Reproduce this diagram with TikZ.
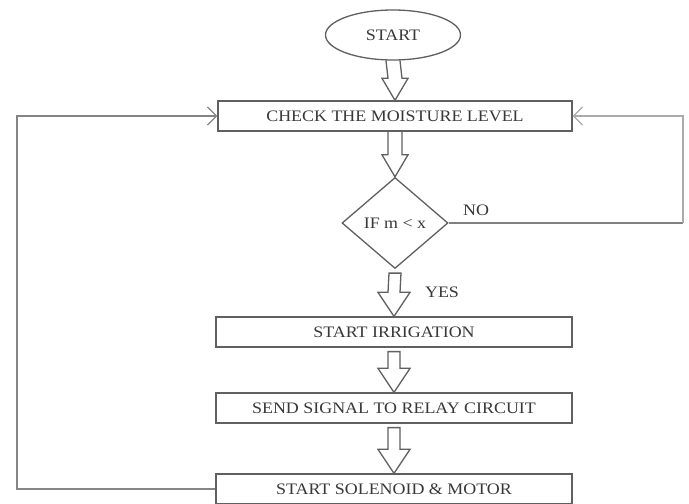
\documentclass[tikz,border=0pt]{standalone}
\usepackage{fontspec}
\setmainfont{Liberation Serif}[FakeStretch=1.12]
\usetikzlibrary{shapes.geometric,arrows.meta,calc}
\definecolor{edge}{HTML}{606060}
\definecolor{txt}{HTML}{383838}
\definecolor{loopl}{HTML}{858585}
\definecolor{loopr}{HTML}{ABABAB}
\begin{document}
\begin{tikzpicture}[x=1pt,y=1pt,
  font=\fontsize{16}{18}\selectfont, text=txt,
  procbox/.style={draw=edge, line width=1.3pt, rectangle, minimum height=30pt, inner sep=0pt},
  termnode/.style={draw=edge, line width=1.3pt, ellipse, minimum width=135pt, minimum height=50pt, inner sep=0pt},
  decnode/.style={draw=edge, line width=1.3pt, diamond, minimum width=106pt, minimum height=91pt, inner sep=0pt},
  fat/.style={draw=edge, line width=1.3pt, line join=miter},
  loopline/.style={line width=1.6pt, -{Straight Barb[length=9pt,width=18pt,line width=1.3pt]}}]
\useasboundingbox (0,0) rectangle (689,504);
\fill[white] (0,0) rectangle (689,504);

\node[termnode] (start) at (393,469) {START};
\node[procbox, minimum width=354pt] (check) at (395,388) {CHECK THE MOISTURE LEVEL};
\node[decnode] (dec) at (395,281) {IF m < x};
\node[procbox, minimum width=356pt] (irr) at (394,172) {START IRRIGATION};
\node[procbox, minimum width=356pt] (send) at (394,96) {SEND SIGNAL TO RELAY CIRCUIT};
\node[procbox, minimum width=356pt] (sol) at (394,15) {START SOLENOID \& MOTOR};

\node (no) at (476,294) {NO};
\node (yes) at (442,212) {YES};

% hollow block arrows
\newcommand\openfat[2]{%
  \draw[fat] ($(#1)+(-7,0)$) -- ($(#2)+(-7,22)$) -- ($(#2)+(-13,22)$) -- (#2) -- ($(#2)+(13,22)$) -- ($(#2)+(7,22)$) -- ($(#1)+(7,0)$);}
\newcommand\closedfat[2]{%
  \draw[fat] ($(#1)+(-6,-4)$) -- ($(#2)+(-6,24)$) -- ($(#2)+(-16,24)$) -- (#2) -- ($(#2)+(16,24)$) -- ($(#2)+(6,24)$) -- ($(#1)+(6,-4)$) -- cycle;}

\openfat{start.south}{check.north}
\openfat{check.south}{dec.north}
\closedfat{dec.south}{irr.north}
\closedfat{irr.south}{send.north}
\closedfat{send.south}{sol.north}

% loops
\coordinate (lb) at (17,15);
\coordinate (lt) at (17,388);
\draw[loopline, draw=loopl] (sol.west) -- (lb) -- (lt) -- (check.west);

\coordinate (rb) at (683,281);
\coordinate (rt) at (683,388);
\draw[line width=1.6pt, draw=edge!80] (dec.east) -- (rb);
\draw[loopline, draw=loopr] (rb) -- (rt) -- (check.east);
\end{tikzpicture}
\end{document}
